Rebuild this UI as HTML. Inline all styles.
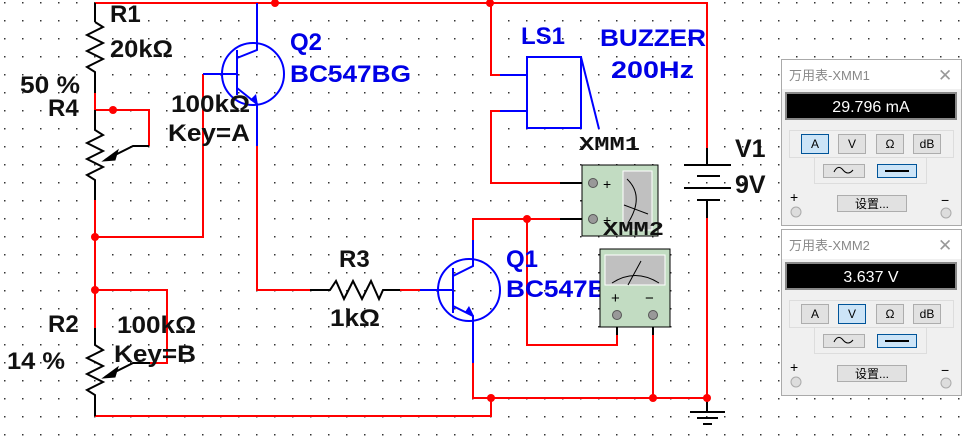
<!DOCTYPE html>
<html><head><meta charset="utf-8"><style>
body{margin:0;width:972px;height:436px;overflow:hidden;background:#fff;font-family:"Liberation Sans","Noto Sans CJK SC",sans-serif}
svg{position:absolute;left:0;top:0}
</style></head><body>
<svg width="972" height="436" viewBox="0 0 972 436" xmlns="http://www.w3.org/2000/svg">
<defs>
<pattern id="dots" x="4" y="2" width="18" height="18" patternUnits="userSpaceOnUse"><rect x="0" y="0" width="1.5" height="1.5" fill="#333"/></pattern>
</defs>
<rect width="972" height="436" fill="url(#dots)"/>
<g fill="none" stroke-width="2" stroke-linejoin="miter">
<g stroke="#f00">
<path d="M95,3H707V148"/>
<path d="M95,93V110H149V146"/>
<path d="M95,200V328"/>
<path d="M95,237H203V74"/>
<path d="M95,290H167V363H150"/>
<path d="M95,416H491V398H473V363"/>
<path d="M491,398H707V218"/>
<path d="M257,146V290H310"/>
<path d="M400,290H420"/>
<path d="M491,3V75H500"/>
<path d="M500,111H491V183H560"/>
<path d="M473,240V219H560"/>
<path d="M527,219V345H617V335"/>
<path d="M653,335V398"/>
</g>
<g stroke="#000">
<path d="M95,3V22"/>
<path d="M95,22 L103,27 L87,35 L103,43 L87,51 L103,59 L87,67 L95,72 V93"/>
<path d="M95,110V130 L103,135 L87,143 L103,151 L87,159 L103,167 L87,175 L95,180 V200"/>
<path d="M149,146H133L105,160"/>
<path d="M95,328V345 L103,350 L87,358 L103,366 L87,374 L103,382 L87,390 L95,395 V416"/>
<path d="M150,363H133L105,377"/>
<path d="M310,290H330 L336,281 L344,299 L353,281 L362,299 L371,281 L379,299 L383,290 H400"/>
<path d="M560,183H593M560,219H593"/>
<path d="M617,315V335M653,315V335"/>
<path d="M707,148V165M684,165H731M697,176H720M684,188H731M697,200H720M707,200V218"/>
<path d="M707,398V412M690,412H725M697,418H718M703,424H712"/>
</g>
<polygon points="103,161 118,150 115,160" fill="#000" stroke="#000" stroke-width="1"/>
<polygon points="103,378 118,367 115,377" fill="#000" stroke="#000" stroke-width="1"/>
<g stroke="#00f">
<circle cx="253" cy="74" r="31"/>
<path d="M257,3V50L237,58M237,50V95M203,74H237M237,88L257,104V146"/>
<circle cx="469" cy="290" r="31"/>
<path d="M420,290H453M453,268V313M453,276L473,266V240M453,306L473,316V363"/>
<rect x="527" y="57" width="54" height="71"/>
<path d="M500,75H527M500,111H527M581,57L599,129"/>
</g>
<polygon points="250,100 258,105 256,94" fill="#00f"/>
<polygon points="465,312 474,316 469,306" fill="#00f"/>
</g>
<g fill="#f00">
<circle cx="275" cy="3" r="4"/><circle cx="490" cy="3" r="4"/>
<circle cx="113" cy="110" r="4"/><circle cx="95" cy="237" r="4"/><circle cx="95" cy="290" r="4"/>
<circle cx="491" cy="398" r="4"/><circle cx="653" cy="398" r="4"/><circle cx="707" cy="398" r="4"/>
<circle cx="527" cy="219" r="4"/>
</g>
<g font-weight="bold" font-size="24" fill="#111" lengthAdjust="spacingAndGlyphs">
<text x="110" y="22">R1</text><text x="110" y="57" textLength="63" lengthAdjust="spacingAndGlyphs">20kΩ</text>
<text x="20" y="93" textLength="60" lengthAdjust="spacingAndGlyphs">50 %</text><text x="48" y="116">R4</text>
<text x="171" y="112" textLength="79" lengthAdjust="spacingAndGlyphs">100kΩ</text><text x="168" y="141" textLength="82" lengthAdjust="spacingAndGlyphs">Key=A</text>
<text x="339" y="267">R3</text><text x="330" y="326" textLength="50" lengthAdjust="spacingAndGlyphs">1kΩ</text>
<text x="48" y="332">R2</text><text x="7" y="369" textLength="58" lengthAdjust="spacingAndGlyphs">14 %</text>
<text x="117" y="333" textLength="79" lengthAdjust="spacingAndGlyphs">100kΩ</text><text x="114" y="362" textLength="82" lengthAdjust="spacingAndGlyphs">Key=B</text>
<text x="735" y="157" font-size="25">V1</text><text x="735" y="193" font-size="25">9V</text>
</g>
<g font-weight="bold" font-size="24" fill="#0000e6">
<text x="290" y="50">Q2</text><text x="290" y="82" textLength="121" lengthAdjust="spacingAndGlyphs">BC547BG</text>
<text x="521" y="44">LS1</text><text x="600" y="46" textLength="106" lengthAdjust="spacingAndGlyphs">BUZZER</text><text x="611" y="78" textLength="83" lengthAdjust="spacingAndGlyphs">200Hz</text>
<text x="506" y="267">Q1</text><text x="506" y="297" textLength="121" lengthAdjust="spacingAndGlyphs">BC547BG</text>
</g>
<rect x="582" y="165" width="76" height="71" fill="#c2dcc2" stroke="#000"/>
<rect x="623" y="171" width="29" height="59" fill="#c0c0c0" stroke="#fff"/>
<path d="M627,179 Q645,196 628,223 M624,205 L648,214" stroke="#000" fill="none"/>
<circle cx="593" cy="183" r="4.5" fill="#999" stroke="#555"/><circle cx="593" cy="219" r="4.5" fill="#999" stroke="#555"/>
<text x="603" y="189" font-size="14">+</text><text x="603" y="225" font-size="14">+</text>
<rect x="600" y="249" width="70" height="78" fill="#c2dcc2" stroke="#000"/>
<rect x="605" y="255" width="60" height="30" fill="#c0c0c0" stroke="#fff"/>
<path d="M612,283 Q635,268 659,283 M628,285 L641,261" stroke="#000" fill="none"/>
<text x="611" y="303" font-size="15">+</text><text x="645" y="303" font-size="15">−</text>
<circle cx="617" cy="315" r="4.5" fill="#999" stroke="#555"/><circle cx="653" cy="315" r="4.5" fill="#999" stroke="#555"/>
<g font-family="Liberation Mono,monospace" font-weight="bold" font-size="19" fill="#111">
<text x="579" y="150" textLength="61" lengthAdjust="spacingAndGlyphs">XMM1</text><text x="603" y="235" textLength="61" lengthAdjust="spacingAndGlyphs">XMM2</text>
</g>
<g font-size="12">
<g>
<rect x="781.5" y="59.5" width="180" height="166" fill="#f0f0f0" stroke="#aaa"/>
<rect x="782" y="60" width="179" height="29" fill="#fff"/>
<text x="789" y="80" fill="#888" font-size="13">万用表-XMM1</text>
<text x="938" y="81" fill="#999" font-size="17">✕</text>
<rect x="786" y="93" width="170" height="26" fill="#000" stroke="#888" stroke-width="2"/>
<text x="871" y="112" fill="#fff" font-size="16" text-anchor="middle">29.796 mA</text>
<rect x="789.5" y="130.5" width="164" height="27" fill="none" stroke="#ddd"/>
<rect x="814.5" y="157.5" width="112" height="26" fill="none" stroke="#ddd"/>
<rect x="801.5" y="134.5" width="27" height="19" fill="#cce4f7" stroke="#005499"/>
<rect x="838.5" y="134.5" width="27" height="19" fill="#e1e1e1" stroke="#adadad"/>
<rect x="876.5" y="134.5" width="27" height="19" fill="#e1e1e1" stroke="#adadad"/>
<rect x="913.5" y="134.5" width="27" height="19" fill="#e1e1e1" stroke="#adadad"/>
<text x="815" y="148" text-anchor="middle">A</text><text x="852" y="148" text-anchor="middle">V</text><text x="890" y="148" text-anchor="middle">Ω</text><text x="927" y="148" text-anchor="middle">dB</text>
<rect x="823.5" y="164.5" width="41" height="13" fill="#e1e1e1" stroke="#adadad"/>
<path d="M834,172 Q838,164 843,170 Q848,176 853,170" fill="none" stroke="#000"/>
<rect x="877.5" y="164.5" width="39" height="13" fill="#cce4f7" stroke="#005499"/>
<path d="M885,171H909" stroke="#000" stroke-width="2"/>
<text x="790" y="202" font-size="14">+</text><text x="941" y="205" font-size="14">−</text>
<circle cx="796" cy="212" r="5" fill="#ddd" stroke="#aaa"/><circle cx="946" cy="213" r="5" fill="#ddd" stroke="#aaa"/>
<rect x="837.5" y="195.5" width="69" height="16" fill="#e1e1e1" stroke="#adadad"/>
<text x="872" y="208" text-anchor="middle">设置...</text>
</g>
<g transform="translate(0,170)">
<rect x="781.5" y="59.5" width="180" height="166" fill="#f0f0f0" stroke="#aaa"/>
<rect x="782" y="60" width="179" height="29" fill="#fff"/>
<text x="789" y="80" fill="#888" font-size="13">万用表-XMM2</text>
<text x="938" y="81" fill="#999" font-size="17">✕</text>
<rect x="786" y="93" width="170" height="26" fill="#000" stroke="#888" stroke-width="2"/>
<text x="871" y="112" fill="#fff" font-size="16" text-anchor="middle">3.637 V</text>
<rect x="789.5" y="130.5" width="164" height="27" fill="none" stroke="#ddd"/>
<rect x="814.5" y="157.5" width="112" height="26" fill="none" stroke="#ddd"/>
<rect x="801.5" y="134.5" width="27" height="19" fill="#e1e1e1" stroke="#adadad"/>
<rect x="838.5" y="134.5" width="27" height="19" fill="#cce4f7" stroke="#005499"/>
<rect x="876.5" y="134.5" width="27" height="19" fill="#e1e1e1" stroke="#adadad"/>
<rect x="913.5" y="134.5" width="27" height="19" fill="#e1e1e1" stroke="#adadad"/>
<text x="815" y="148" text-anchor="middle">A</text><text x="852" y="148" text-anchor="middle">V</text><text x="890" y="148" text-anchor="middle">Ω</text><text x="927" y="148" text-anchor="middle">dB</text>
<rect x="823.5" y="164.5" width="41" height="13" fill="#e1e1e1" stroke="#adadad"/>
<path d="M834,172 Q838,164 843,170 Q848,176 853,170" fill="none" stroke="#000"/>
<rect x="877.5" y="164.5" width="39" height="13" fill="#cce4f7" stroke="#005499"/>
<path d="M885,171H909" stroke="#000" stroke-width="2"/>
<text x="790" y="202" font-size="14">+</text><text x="941" y="205" font-size="14">−</text>
<circle cx="796" cy="212" r="5" fill="#ddd" stroke="#aaa"/><circle cx="946" cy="213" r="5" fill="#ddd" stroke="#aaa"/>
<rect x="837.5" y="195.5" width="69" height="16" fill="#e1e1e1" stroke="#adadad"/>
<text x="872" y="208" text-anchor="middle">设置...</text>
</g>
</g>
</svg>
</body></html>
